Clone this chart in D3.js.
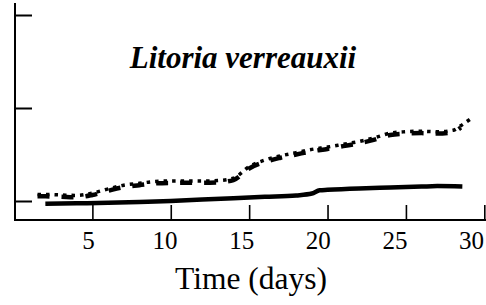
<!DOCTYPE html>
<html>
<head>
<meta charset="utf-8">
<script src="https://cdn.jsdelivr.net/npm/d3@7"></script>
<style>
  html, body { margin: 0; padding: 0; background: #fff; }
  svg { display: block; }
</style>
</head>
<body>
<svg id="chart" width="486" height="305"></svg>
<script>
// ---- data ----
const title = "Litoria verreauxii";
const xLabel = "Time (days)";
const xTicks = [5, 10, 15, 20, 25, 30];
const yTicks = [0, 1, 2];

const solidDays   = [2, 4, 6, 8, 10, 12, 14, 16, 18, 19, 19.5, 20, 22, 24, 26, 27, 28.6];
const solidValues = [-0.03, -0.025, -0.02, -0.01, 0.0, 0.015, 0.03, 0.045, 0.06, 0.08, 0.115, 0.12, 0.135, 0.145, 0.155, 0.16, 0.155];

const dashedDays   = [1.5, 2, 3, 4, 5, 6, 7, 8, 9, 10, 11, 12, 13, 14, 15, 16, 17, 18, 19, 20, 21, 22, 23, 24, 25, 26, 27, 28, 28.5];
const dashedValues = [0.05, 0.05, 0.045, 0.04, 0.065, 0.11, 0.15, 0.17, 0.19, 0.195, 0.195, 0.195, 0.2, 0.225, 0.35, 0.42, 0.465, 0.5, 0.535, 0.56, 0.59, 0.62, 0.66, 0.71, 0.725, 0.73, 0.725, 0.74, 0.79];

const dottedDays   = [1.5, 2, 3, 4, 5, 6, 7, 8, 9, 10, 11, 12, 13, 14, 15, 16, 17, 18, 19, 20, 21, 22, 23, 24, 25, 26, 27, 28, 28.5, 29.1];
const dottedValues = [0.07, 0.07, 0.065, 0.06, 0.085, 0.13, 0.17, 0.19, 0.21, 0.215, 0.215, 0.215, 0.22, 0.245, 0.37, 0.44, 0.485, 0.52, 0.555, 0.58, 0.61, 0.64, 0.68, 0.73, 0.745, 0.75, 0.745, 0.76, 0.81, 0.88];

const SERIF = "Liberation Serif";

// ---- scales ----
const svg = d3.select("#chart");
svg.append("rect").attr("width", 486).attr("height", 305).attr("fill", "#fff");

const x = d3.scaleLinear().domain([0, 30]).range([14, 484.3]);
const y = d3.scaleLinear().domain([0, 2]).range([201, 15]);
const xLab = d3.scaleLinear().domain([5, 30]).range([88, 471]);

const axisX0 = 15, axisY0 = 220;

// y axis
const yAxis = svg.append("g").attr("transform", `translate(${axisX0},0)`);
yAxis.call(d3.axisRight(y).tickValues(yTicks).tickSize(17).tickFormat(""));
yAxis.select(".domain").remove();
yAxis.selectAll(".tick line").attr("stroke", "#000").attr("stroke-width", 2);
yAxis.append("line").attr("x1", 0).attr("x2", 0).attr("y1", 3).attr("y2", axisY0 + 1)
  .attr("stroke", "#000").attr("stroke-width", 2);

// x axis
const xAxis = svg.append("g").attr("transform", `translate(0,${axisY0})`);
xAxis.call(d3.axisTop(x).tickValues(xTicks).tickSize(15).tickFormat(""));
xAxis.select(".domain").remove();
xAxis.selectAll(".tick line").attr("stroke", "#000").attr("stroke-width", 1.6);
xAxis.append("line").attr("x1", axisX0 - 1).attr("x2", 486).attr("y1", 0).attr("y2", 0)
  .attr("stroke", "#000").attr("stroke-width", 2);

// x tick labels
const xLabAxis = svg.append("g").attr("transform", `translate(0,${axisY0})`);
xLabAxis.call(d3.axisBottom(xLab).tickValues(xTicks).tickSize(0).tickPadding(0));
xLabAxis.attr("font-family", SERIF).attr("font-size", 25);
xLabAxis.select(".domain").remove();
xLabAxis.selectAll("text")
  .attr("y", 29).attr("dy", null)
  .attr("font-family", SERIF).attr("font-size", 25).attr("fill", "#000");

// x label
svg.append("text").attr("x", 251).attr("y", 289).attr("text-anchor", "middle")
  .attr("font-family", SERIF).attr("font-size", 31.5).attr("fill", "#000").text(xLabel);

// title
svg.append("text").attr("x", 243).attr("y", 68).attr("text-anchor", "middle")
  .attr("font-family", SERIF).attr("font-size", 31)
  .attr("font-style", "italic").attr("font-weight", "bold").attr("fill", "#000")
  .text(title);

// lines
const mk = (days, vals) => days.map((d, i) => [d, vals[i]]);
const line = d3.line().x(d => x(d[0])).y(d => y(d[1])).curve(d3.curveMonotoneX);

svg.append("path").datum(mk(solidDays, solidValues)).attr("d", line)
  .attr("fill", "none").attr("stroke", "#000").attr("stroke-width", 4.5);

svg.append("path").datum(mk(dashedDays, dashedValues)).attr("d", line)
  .attr("fill", "none").attr("stroke", "#000").attr("stroke-width", 4.5)
  .attr("stroke-dasharray", "12,12");

svg.append("path").datum(mk(dottedDays, dottedValues)).attr("d", line)
  .attr("fill", "none").attr("stroke", "#000").attr("stroke-width", 3.5)
  .attr("stroke-dasharray", "3.5,5");
</script>
</body>
</html>
